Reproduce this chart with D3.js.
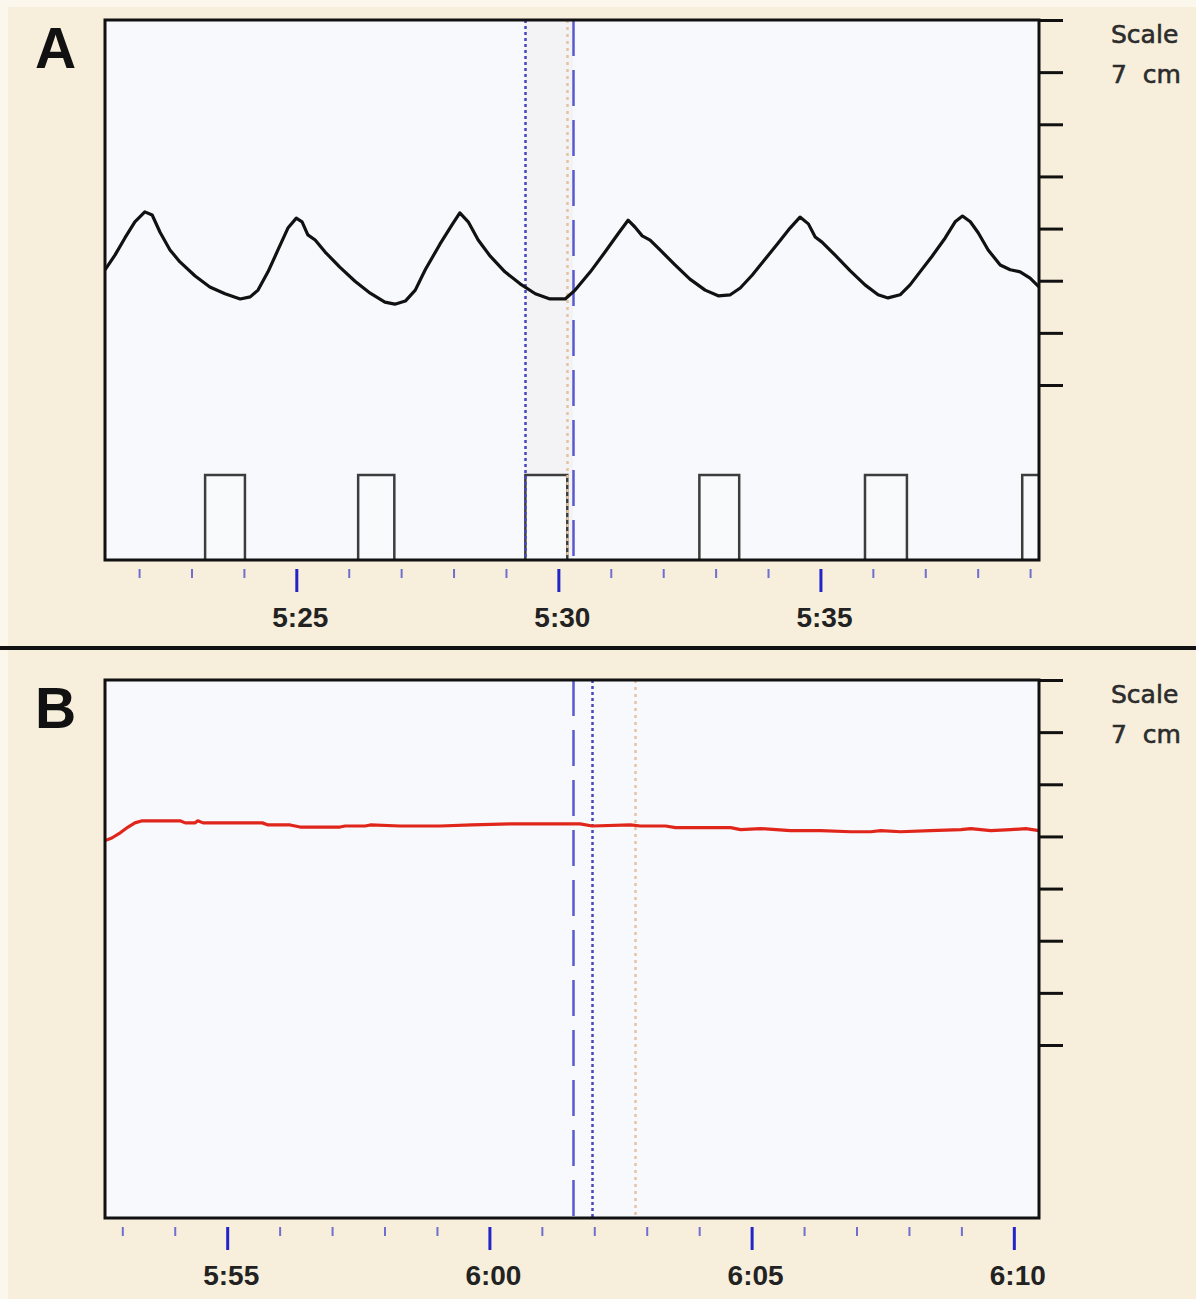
<!DOCTYPE html>
<html lang="en">
<head>
  <meta charset="utf-8">
  <script src="https://d3js.org/d3.v7.min.js"></script>
  <style>
    body { margin: 0; background: #f7efdc; }
    svg { display: block; }
    .tlabel { font: bold 28px "Liberation Sans", Arial, sans-serif; fill: #222; }
    .plabel { font: bold 57px "Liberation Sans", Arial, sans-serif; fill: #111; }
    .scale { font: 25px "DejaVu Sans", sans-serif; fill: #2c2c2c; stroke: #2c2c2c; stroke-width: 0.6px; }
  </style>
</head>
<body>
<div id="chart"></div>
<script>
  // times are seconds from 0:00 (5:25 = 325), values are cm on the 7 cm scale
  var traceA = [
    [321.35,2.21],[321.54,2.49],[321.73,2.82],[321.92,3.13],[322.11,3.32],[322.25,3.26],[322.40,2.93],
    [322.59,2.59],[322.78,2.36],[323.07,2.09],[323.35,1.88],[323.64,1.75],[323.93,1.65],[324.12,1.69],
    [324.27,1.82],[324.46,2.17],[324.65,2.59],[324.84,3.01],[325.00,3.20],[325.11,3.13],[325.22,2.88],
    [325.36,2.78],[325.55,2.55],[325.83,2.26],[326.12,1.99],[326.41,1.76],[326.69,1.59],[326.88,1.55],
    [327.08,1.61],[327.27,1.82],[327.46,2.21],[327.74,2.70],[327.97,3.07],[328.12,3.30],[328.28,3.13],
    [328.47,2.78],[328.70,2.47],[328.98,2.17],[329.27,1.94],[329.56,1.75],[329.84,1.65],[330.13,1.65],
    [330.32,1.82],[330.61,2.17],[330.89,2.55],[331.14,2.90],[331.33,3.16],[331.46,3.03],[331.60,2.86],
    [331.75,2.78],[331.94,2.59],[332.23,2.30],[332.51,2.03],[332.80,1.82],[333.05,1.71],[333.28,1.73],
    [333.47,1.86],[333.70,2.11],[333.95,2.42],[334.19,2.72],[334.42,3.01],[334.61,3.22],[334.77,3.09],
    [334.90,2.84],[335.03,2.74],[335.28,2.49],[335.57,2.19],[335.85,1.92],[336.10,1.73],[336.29,1.67],
    [336.52,1.73],[336.71,1.92],[336.90,2.17],[337.13,2.47],[337.38,2.82],[337.57,3.13],[337.71,3.24],
    [337.86,3.13],[338.01,2.92],[338.20,2.59],[338.43,2.30],[338.62,2.21],[338.81,2.17],[339.00,2.05],
    [339.17,1.88]
  ];

  // start / end of the marker pulses at the bottom of panel A
  var pulsesA = [[323.26,324.02],[326.18,326.87],[329.37,330.17],[332.69,333.45],[335.85,336.65],[338.85,339.6]];

  var traceB = [
    [352.67,3.92],[352.80,3.97],[352.96,4.07],[353.11,4.18],[353.24,4.26],[353.38,4.30],[353.72,4.30],
    [354.10,4.30],[354.20,4.26],[354.39,4.26],[354.44,4.30],[354.54,4.26],[355.44,4.26],[355.67,4.26],
    [355.78,4.22],[356.20,4.22],[356.39,4.18],[357.15,4.18],[357.25,4.20],[357.63,4.20],[357.73,4.22],
    [358.30,4.20],[359.06,4.20],[359.67,4.22],[360.40,4.24],[361.07,4.24],[361.73,4.24],[361.96,4.20],
    [362.69,4.22],[362.88,4.20],[363.36,4.20],[363.55,4.17],[364.60,4.17],[364.79,4.13],[365.17,4.15],
    [365.74,4.11],[366.32,4.11],[366.89,4.09],[367.27,4.09],[367.46,4.11],[367.84,4.09],[368.41,4.11],
    [368.99,4.13],[369.18,4.15],[369.56,4.11],[369.94,4.13],[370.23,4.15],[370.48,4.11]
  ];

  // cursor lines: [time, kind]
  var cursorsA = [[329.37,"dot"],[330.17,"orange"],[330.28,"dash"]];
  var cursorsB = [[361.60,"dash"],[361.96,"dot"],[362.77,"orange"]];

  var domainA = [321.35, 339.17];
  var domainB = [352.67, 370.48];
  var majorA = [325, 330, 335];
  var majorB = [355, 360, 365, 370];
  var scaleCm = [0, 1, 2, 3, 4, 5, 6, 7];
  var scaleText = ["Scale", "7  cm"];

  var W = 1196, H = 1299;

  var svg = d3.select("#chart").append("svg")
          .attr("width", W)
          .attr("height", H);

  svg.append("rect").attr("width", W).attr("height", H).attr("fill", "#fbf7ec");
  svg.append("rect").attr("x", 8).attr("y", 7).attr("width", W - 8).attr("height", H - 7).attr("fill", "#f7efdc");

  // separator between panels
  svg.append("line")
          .attr("x1", 0).attr("x2", W)
          .attr("y1", 648).attr("y2", 648)
          .attr("stroke", "#111").attr("stroke-width", 4);

  function fmt(s) {
    var m = Math.floor(s / 60), r = Math.round(s - m * 60);
    return m + ":" + (r < 10 ? "0" : "") + r;
  }

  function drawPanel(opt) {
    var left = 105, right = 1039, top = opt.top, bottom = opt.bottom;

    var x = d3.scaleLinear().domain(opt.domain).range([left, right]);
    // 7 cm scale: 52.1 px per cm, zero sits near the middle of the panel
    var y = d3.scaleLinear().domain([0, 7]).range([top + 365, top]);

    var g = svg.append("g");

    g.append("rect")
            .attr("x", left).attr("y", top)
            .attr("width", right - left).attr("height", bottom - top)
            .attr("fill", "#f8f9fc");

    var clipId = "clip" + opt.name;
    g.append("clipPath").attr("id", clipId)
            .append("rect")
            .attr("x", left).attr("y", top)
            .attr("width", right - left).attr("height", bottom - top);

    var plot = g.append("g").attr("clip-path", "url(#" + clipId + ")");

    if (opt.shade) {
      plot.append("rect")
              .attr("x", x(opt.shade[0])).attr("y", top)
              .attr("width", x(opt.shade[1]) - x(opt.shade[0]))
              .attr("height", bottom - top)
              .attr("fill", "#f3f3f5");
    }

    if (opt.pulses) {
      plot.selectAll(".pulse")
              .data(opt.pulses).enter()
              .append("rect")
              .attr("class", "pulse")
              .attr("x", function(d) { return x(d[0]); })
              .attr("y", bottom - 85)
              .attr("width", function(d) { return x(d[1]) - x(d[0]); })
              .attr("height", 90)
              .attr("fill", "#f9fafc")
              .attr("stroke", "#3d3d3d")
              .attr("stroke-width", 2.5);
    }

    var styles = {
      dot: {color: "#4747bf", dash: "3,3", w: 2.5},
      dash: {color: "#5a5ad0", dash: "36,14", w: 2.5},
      orange: {color: "#e6c4a0", dash: "3,4", w: 2.5}
    };

    plot.selectAll(".cursor")
            .data(opt.cursors).enter()
            .append("line")
            .attr("class", "cursor")
            .attr("x1", function(d) { return Math.round(x(d[0])) + 0.5; })
            .attr("x2", function(d) { return Math.round(x(d[0])) + 0.5; })
            .attr("y1", top).attr("y2", bottom)
            .attr("stroke", function(d) { return styles[d[1]].color; })
            .attr("stroke-dasharray", function(d) { return styles[d[1]].dash; })
            .attr("stroke-width", function(d) { return styles[d[1]].w; });

    var line = d3.line()
            .x(function(d) { return x(d[0]); })
            .y(function(d) { return y(d[1]); });

    plot.append("path")
            .datum(opt.trace)
            .attr("d", line)
            .attr("fill", "none")
            .attr("stroke", opt.color)
            .attr("stroke-width", 3.2)
            .attr("stroke-linejoin", "round");

    // frame
    g.append("rect")
            .attr("x", left).attr("y", top)
            .attr("width", right - left).attr("height", bottom - top)
            .attr("fill", "none")
            .attr("stroke", "#111")
            .attr("stroke-width", 3);

    // right-hand cm scale
    g.append("g")
            .attr("transform", "translate(" + right + ",0)")
            .call(d3.axisRight(y).tickValues(scaleCm).tickSize(24).tickFormat(""))
            .call(function(a) {
              a.select(".domain").remove();
              a.selectAll("line").attr("stroke", "#111").attr("stroke-width", 3);
            });

    // time ticks, one per second, every fifth one longer
    var secs = d3.range(Math.ceil(opt.domain[0]), Math.floor(opt.domain[1]) + 1);
    var minor = secs.filter(function(s) { return opt.major.indexOf(s) < 0; });

    g.append("g")
            .attr("transform", "translate(0," + (bottom + 9) + ")")
            .call(d3.axisBottom(x).tickValues(minor).tickSize(9).tickFormat(""))
            .call(function(a) {
              a.select(".domain").remove();
              a.selectAll("line").attr("stroke", "#6f6fd0").attr("stroke-width", 2);
            });

    g.append("g")
            .attr("transform", "translate(0," + (bottom + 9) + ")")
            .call(d3.axisBottom(x).tickValues(opt.major).tickSize(23).tickFormat(""))
            .call(function(a) {
              a.select(".domain").remove();
              a.selectAll("line").attr("stroke", "#2323c8").attr("stroke-width", 3);
            });

    g.selectAll(".tlabel")
            .data(opt.major).enter()
            .append("text")
            .attr("class", "tlabel")
            .attr("x", function(d) { return x(d) + 4; })
            .attr("y", bottom + 67)
            .attr("text-anchor", "middle")
            .text(fmt);

    g.append("text")
            .attr("class", "plabel")
            .attr("x", 35).attr("y", top + 48)
            .text(opt.name);

    g.selectAll(".scale")
            .data(scaleText).enter()
            .append("text")
            .attr("class", "scale")
            .attr("x", 1111)
            .attr("y", function(d, i) { return top + 23 + i * 40; })
            .attr("xml:space", "preserve")
            .style("white-space", "pre")
            .text(function(d) { return d; });
  }

  drawPanel({name: "A", top: 20, bottom: 560, domain: domainA, major: majorA,
    trace: traceA, color: "#111", pulses: pulsesA, cursors: cursorsA, shade: [329.37, 330.28]});

  drawPanel({name: "B", top: 680, bottom: 1218, domain: domainB, major: majorB,
    trace: traceB, color: "#e0251b", cursors: cursorsB});
</script>
</body>
</html>
